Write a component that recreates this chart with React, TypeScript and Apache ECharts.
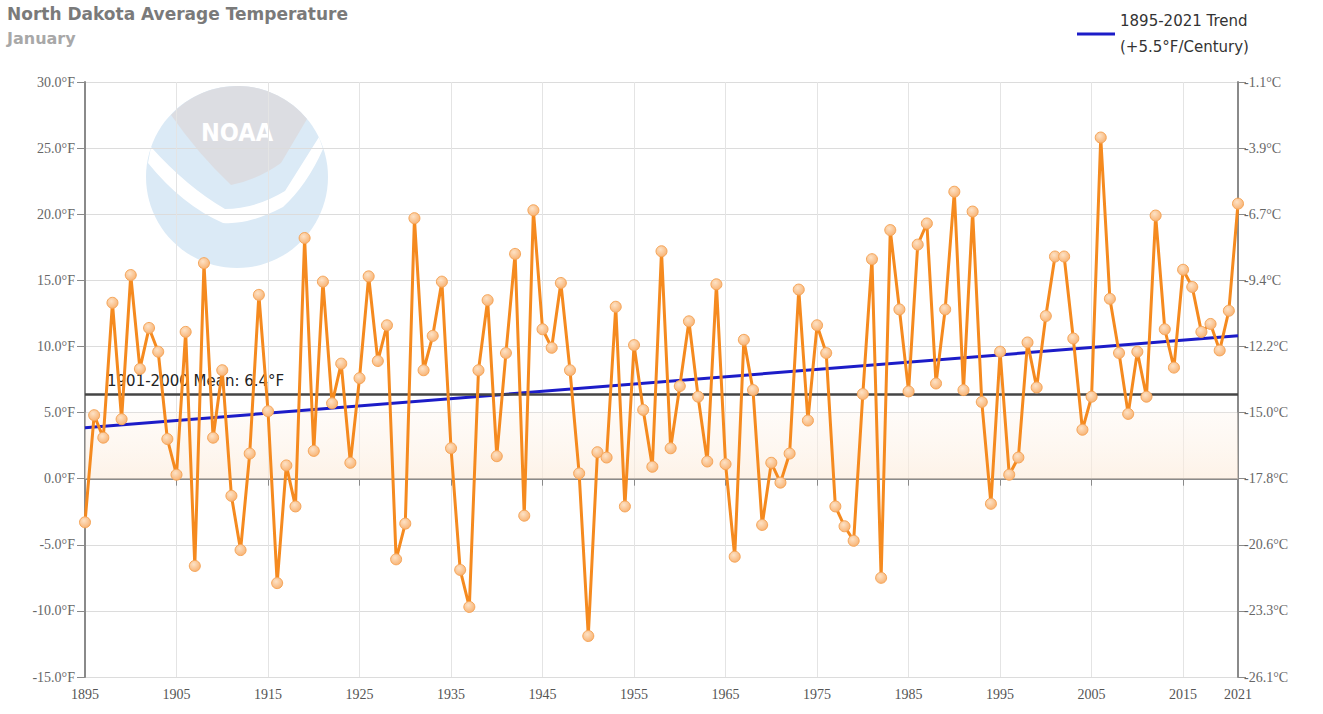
import React, { useEffect, useRef } from "react";
import * as echarts from "echarts";

const YEARS: string[] = [];
for (let y = 1895; y <= 2021; y++) YEARS.push(String(y));

const TEMPS_F: number[] = [
  -3.3, 4.8, 3.1, 13.3, 4.5, 15.4, 8.3, 11.4, 9.6, 3.0,
  0.3, 11.1, -6.6, 16.3, 3.1, 8.2, -1.3, -5.4, 1.9, 13.9,
  5.1, -7.9, 1.0, -2.1, 18.2, 2.1, 14.9, 5.7, 8.7, 1.2,
  7.6, 15.3, 8.9, 11.6, -6.1, -3.4, 19.7, 8.2, 10.8, 14.9,
  2.3, -6.9, -9.7, 8.2, 13.5, 1.7, 9.5, 17.0, -2.8, 20.3,
  11.3, 9.9, 14.8, 8.2, 0.4, -11.9, 2.0, 1.6, 13.0, -2.1,
  10.1, 5.2, 0.9, 17.2, 2.3, 7.0, 11.9, 6.2, 1.3, 14.7,
  1.1, -5.9, 10.5, 6.7, -3.5, 1.2, -0.3, 1.9, 14.3, 4.4,
  11.6, 9.5, -2.1, -3.6, -4.7, 6.4, 16.6, -7.5, 18.8, 12.8,
  6.6, 17.7, 19.3, 7.2, 12.8, 21.7, 6.7, 20.2, 5.8, -1.9,
  9.6, 0.3, 1.6, 10.3, 6.9, 12.3, 16.8, 16.8, 10.6, 3.7,
  6.2, 25.8, 13.6, 9.5, 4.9, 9.6, 6.2, 19.9, 11.3, 8.4,
  15.8, 14.5, 11.1, 11.7, 9.7, 12.7, 20.8,
];

const TREND_POINTS: [string, number][] = [
  ["1895", 3.85],
  ["2021", 10.8],
];
const MEAN_F = 6.4;
const BAND: [number, number] = [0, 5];
const TREND_NAME = "1895-2021 Trend\n(+5.5°F/Century)";
const MEAN_LABEL = "1901-2000 Mean: 6.4°F";
const TITLE = "North Dakota Average Temperature";
const SUBTITLE = "January";

const GULL_TOP =
  "M -66 -62 A 90 90 0 0 1 70 -58 L 44 -14 Q 22 2 -6 8 Q -38 -22 -66 -62 Z";
const GULL_SWOOSH =
  "M -86 -30 Q -50 10 -12 32 Q 18 32 48 14 L 82 -40 L 86 -28 Q 70 8 46 30 Q 12 48 -14 46 Q -55 28 -89 -14 Z";

let registered = false;
function registerShapes() {
  if (registered) return;
  echarts.graphic.registerShape("gullTop", echarts.graphic.extendPath(GULL_TOP, {}) as any);
  echarts.graphic.registerShape("gullSwoosh", echarts.graphic.extendPath(GULL_SWOOSH, {}) as any);
  registered = true;
}

export default function App() {
  const ref = useRef<HTMLDivElement>(null);
  useEffect(() => {
    document.body.style.margin = "0";
    registerShapes();
    const chart = echarts.init(ref.current!, undefined, { renderer: "svg" });
    const tickShow = (i: number) => i % 10 === 0 || i === YEARS.length - 1;
    const axisFont = "'Liberation Serif', serif";
    chart.setOption({
      animation: false,
      backgroundColor: "#ffffff",
      title: [
        {
          text: TITLE,
          left: 2,
          top: 0,
          textStyle: { fontSize: 17, fontWeight: "bold", color: "#7a7a7a", fontFamily: "'DejaVu Sans', sans-serif" },
        },
        {
          text: SUBTITLE,
          left: 2,
          top: 25,
          textStyle: { fontSize: 16, fontWeight: "bold", color: "#a8a8a8", fontFamily: "'DejaVu Sans', sans-serif" },
        },
      ],
      legend: {
        data: [TREND_NAME],
        left: 1072,
        top: 3,
        icon: "rect",
        itemWidth: 38,
        itemHeight: 3,
        itemGap: 8,
        textStyle: { fontSize: 15, color: "#333", lineHeight: 26, fontFamily: "'DejaVu Sans', sans-serif" },
      },
      graphic: {
        elements: [
          {
            type: "group",
            x: 237,
            y: 177,
            z: -10,
            silent: true,
            children: [
              { type: "circle", shape: { cx: 0, cy: 0, r: 91 }, style: { fill: "#dbeaf6" }, z: -10 },
              { type: "gullTop", style: { fill: "#dcdde2" }, z: -9 },
              { type: "gullSwoosh", style: { fill: "#ffffff" }, z: -9 },
              {
                type: "text",
                x: 0,
                y: -45,
                z: -8,
                style: {
                  text: "NOAA",
                  fill: "#ffffff",
                  font: "bold 25px 'DejaVu Sans Condensed', 'DejaVu Sans', sans-serif",
                  align: "center",
                  verticalAlign: "middle",
                },
              },
            ],
          },
        ],
      },
      grid: { left: 85, right: 85, top: 82, bottom: 37, containLabel: false },
      xAxis: {
        type: "category",
        data: YEARS,
        boundaryGap: false,
        axisLine: { show: true, lineStyle: { color: "#8a8a8a", width: 2 } },
        axisTick: { show: true, interval: (i: number) => tickShow(i), length: 7, lineStyle: { color: "#8a8a8a" } },
        axisLabel: {
          interval: (i: number) => tickShow(i),
          color: "#555",
          fontSize: 14,
          fontFamily: axisFont,
          margin: 10,
        },
        splitLine: { show: true, interval: (i: number) => i % 10 === 0 && i !== 0, lineStyle: { color: "#e4e4e4", width: 1 } },
      },
      yAxis: [
        {
          type: "value",
          min: -15,
          max: 30,
          interval: 5,
          position: "left",
          axisLine: { show: true, lineStyle: { color: "#8a8a8a", width: 2 } },
          axisTick: { show: true, length: 8, lineStyle: { color: "#8a8a8a" } },
          axisLabel: {
            formatter: (v: number) => v.toFixed(1) + "°F",
            color: "#666",
            fontSize: 14,
            fontFamily: axisFont,
            margin: 10,
          },
          splitLine: { show: true, lineStyle: { color: "#dcdcdc", width: 1 } },
        },
        {
          type: "value",
          min: -15,
          max: 30,
          interval: 5,
          position: "right",
          axisLine: { show: true, lineStyle: { color: "#8a8a8a", width: 2 } },
          axisTick: { show: true, length: 8, lineStyle: { color: "#8a8a8a" } },
          axisLabel: {
            formatter: (v: number) => (((v - 32) * 5) / 9).toFixed(1) + "°C",
            color: "#666",
            fontSize: 14,
            fontFamily: axisFont,
            margin: 6,
          },
          splitLine: { show: false },
        },
      ],
      series: [
        {
          name: "band",
          type: "line",
          data: [],
          silent: true,
          z: 1,
          markArea: {
            silent: true,
            itemStyle: {
              color: new echarts.graphic.LinearGradient(0, 0, 0, 1, [
                { offset: 0, color: "rgba(253,242,232,0.3)" },
                { offset: 1, color: "rgba(252,234,216,0.6)" },
              ]),
            },
            data: [[{ yAxis: BAND[0] }, { yAxis: BAND[1] }]],
          },
          markLine: {
            silent: true,
            symbol: "none",
            lineStyle: { color: "#454545", width: 2.5, type: "solid" },
            label: {
              show: true,
              position: "insideStartTop",
              formatter: MEAN_LABEL,
              color: "#222",
              fontSize: 15,
              fontFamily: "'DejaVu Sans', sans-serif",
              distance: [22, 6],
            },
            data: [{ yAxis: MEAN_F }],
          },
        },
        {
          name: TREND_NAME,
          type: "line",
          data: TREND_POINTS,
          symbol: "none",
          z: 3,
          lineStyle: { color: "#1c1cc8", width: 3 },
          itemStyle: { color: "#1c1cc8" },
        },
        {
          name: "January",
          type: "line",
          data: TEMPS_F,
          z: 5,
          symbol: "circle",
          symbolSize: 11,
          showSymbol: true,
          showAllSymbol: true,
          lineStyle: { color: "#f58a1f", width: 3 },
          itemStyle: {
            color: new echarts.graphic.RadialGradient(0.4, 0.35, 0.7, [
              { offset: 0, color: "#fde2c6" },
              { offset: 1, color: "#f8b170" },
            ]),
            borderColor: "#f6a558",
            borderWidth: 1,
          },
        },
      ],
    });
    return () => chart.dispose();
  }, []);
  return <div ref={ref} style={{ width: 1323, height: 714 }} />;
}
